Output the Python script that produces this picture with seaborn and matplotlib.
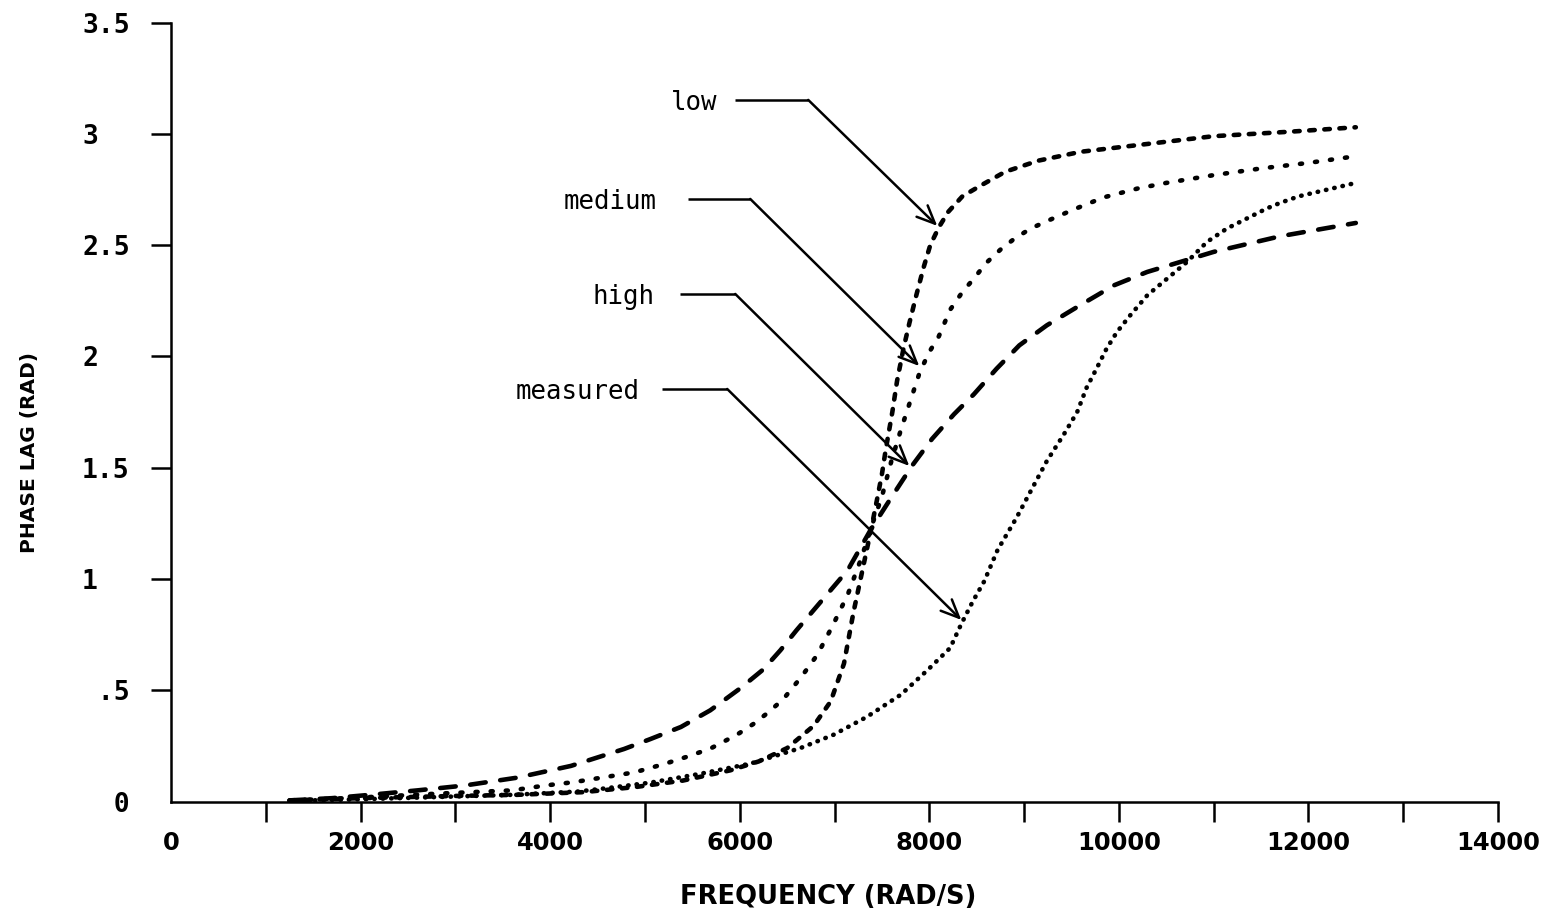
import matplotlib
matplotlib.use("Agg")
import matplotlib.pyplot as plt
from matplotlib import font_manager
from matplotlib.ticker import FixedLocator
import pandas as pd
import seaborn as sns

# ---- curve samples: frequency (rad/s) and phase lag (rad) ----
low_freq = [1250, 2000, 3000, 3650, 4350, 4900, 5400, 5900, 6200, 6500, 6780,
            6960, 7100, 7200, 7300, 7380, 7450, 7500, 7540, 7610, 7660, 7730,
            7790, 7860, 7940, 8010, 8100, 8200, 8350, 8550, 8800, 9150, 9600,
            10200, 11000, 11800, 12500]
low_lag = [0.005, 0.015, 0.025, 0.03, 0.042, 0.065, 0.094, 0.14, 0.18, 0.24, 0.34,
           0.45, 0.62, 0.85, 1.05, 1.21, 1.36, 1.47, 1.58, 1.75, 1.89, 2.04,
           2.15, 2.27, 2.40, 2.50, 2.58, 2.65, 2.72, 2.77, 2.83, 2.88, 2.92,
           2.95, 2.99, 3.01, 3.03]

medium_freq = [1300, 2000, 2800, 3600, 3950, 4250, 4570, 4890, 5200, 5480, 5700,
               5970, 6150, 6300, 6460, 6650, 6820, 6980, 7140, 7280, 7410, 7500,
               7600, 7700, 7800, 7900, 8000, 8100, 8220, 8350, 8470, 8600, 8750,
               8900, 9070, 9250, 9520, 9840, 10200, 10500, 11000, 11500, 12000,
               12500]
medium_lag = [0.005, 0.018, 0.035, 0.05, 0.072, 0.087, 0.109, 0.131, 0.168, 0.206, 0.24,
              0.30, 0.35, 0.40, 0.46, 0.56, 0.66, 0.79, 0.93, 1.09, 1.26, 1.37,
              1.53, 1.67, 1.80, 1.93, 2.02, 2.09, 2.21, 2.29, 2.35, 2.42, 2.48,
              2.53, 2.575, 2.61, 2.66, 2.715, 2.755, 2.78, 2.815, 2.845, 2.87,
              2.90]

high_freq = [1250, 1700, 2100, 2600, 3100, 3650, 4220, 4500, 4780, 5060, 5380,
             5690, 6010, 6250, 6430, 6600, 6780, 6960, 7140, 7380, 7590, 7820,
             8030, 8260, 8470, 8710, 8950, 9240, 9590, 9950, 10300, 10650, 11000,
             11350, 11700, 12100, 12500]
high_lag = [0.005, 0.015, 0.03, 0.05, 0.072, 0.107, 0.16, 0.198, 0.236, 0.281, 0.335,
            0.41, 0.51, 0.594, 0.68, 0.77, 0.86, 0.95, 1.04, 1.22, 1.36, 1.51,
            1.63, 1.74, 1.83, 1.945, 2.05, 2.14, 2.23, 2.32, 2.38, 2.425, 2.47,
            2.505, 2.54, 2.57, 2.60]

measured_freq = [1250, 2000, 2800, 3600, 4300, 4600, 5060, 5590, 6110, 6640, 6990,
                 7340, 7700, 7980, 8220, 8340, 8460, 8580, 8720, 8920, 9070, 9240,
                 9420, 9560, 9660, 9770, 9870, 9980, 10120, 10300, 10510, 10720,
                 10930, 11140, 11350, 11560, 11700, 11900, 12200, 12500]
measured_lag = [0.003, 0.01, 0.02, 0.03, 0.045, 0.06, 0.085, 0.125, 0.17, 0.24, 0.30,
                0.38, 0.48, 0.59, 0.69, 0.80, 0.90, 0.99, 1.13, 1.275, 1.395, 1.53,
                1.65, 1.75, 1.86, 1.95, 2.035, 2.11, 2.185, 2.275, 2.35, 2.425,
                2.515, 2.575, 2.62, 2.665, 2.69, 2.72, 2.75, 2.78]

# ---- axis ticks ----
x_major = [0, 2000, 4000, 6000, 8000, 10000, 12000, 14000]
x_minor = [1000, 3000, 5000, 7000, 9000, 11000, 13000]
x_labels = ["0", "2000", "4000", "6000", "8000", "10000", "12000", "14000"]
y_major = [0, 0.5, 1, 1.5, 2, 2.5, 3, 3.5]
y_labels = ["  0", " .5", "1", "1.5", "2", "2.5", "3", "3.5"]

# ---- callouts: label, text anchor, leader start/elbow, arrow tip ----
call_names = ["low", "medium", "high", "measured"]
call_text_x = [5763, 5119, 5098, 4939]
call_lead_y = [3.153, 2.708, 2.281, 1.854]
call_start_x = [5953, 5457, 5372, 5182]
call_elbow_x = [6723, 6111, 5953, 5868]
call_tip_x = [8084, 7894, 7789, 8338]
call_tip_y = [2.587, 1.957, 1.508, 0.816]

sns.set_theme(style="ticks")
plt.rcParams["font.family"] = ["DejaVu Sans"]

installed = {f.name for f in font_manager.fontManager.ttflist}
if "Liberation Sans Narrow" in installed:
    narrow, xt_size, xl_size, yl_size = "Liberation Sans Narrow", 23, 23, 18
else:
    narrow, xt_size, xl_size, yl_size = "DejaVu Sans", 17.5, 18.5, 14.5

frames = [
    pd.DataFrame({"freq": low_freq, "lag": low_lag, "case": "low"}),
    pd.DataFrame({"freq": medium_freq, "lag": medium_lag, "case": "medium"}),
    pd.DataFrame({"freq": high_freq, "lag": high_lag, "case": "high"}),
    pd.DataFrame({"freq": measured_freq, "lag": measured_lag, "case": "measured"}),
]
df = pd.concat(frames, ignore_index=True)

# dash patterns (in units of line width)
dash_map = {
    "low": (1.2, 2.1),
    "medium": (0.45, 2.85),
    "high": (3.4, 3.2),
    "measured": (0.1, 1.75),
}

fig = plt.figure(figsize=(15.6, 9.17), dpi=100)
fig.patch.set_facecolor("white")
ax = fig.add_axes([171 / 1560, (917 - 801.5) / 917, (1498 - 171) / 1560, (801.5 - 22.7) / 917])
ax.set_facecolor("white")

for case, dash in dash_map.items():
    sns.lineplot(data=df[df["case"] == case], x="freq", y="lag", ax=ax,
                 color="black", linewidth=3.3, linestyle=(0, dash),
                 dash_capstyle="round", estimator=None, errorbar=None,
                 sort=False, legend=False)

ax.set_xlim(0, 14000)
ax.set_ylim(0, 3.5)
sns.despine(ax=ax)
for side in ("left", "bottom"):
    ax.spines[side].set_linewidth(1.8)
    ax.spines[side].set_color("black")

ax.xaxis.set_major_locator(FixedLocator(x_major))
ax.xaxis.set_minor_locator(FixedLocator(x_minor))
ax.yaxis.set_major_locator(FixedLocator(y_major))
ax.set_xticklabels(x_labels, fontfamily=narrow, fontweight="bold", fontsize=xt_size)
ax.set_yticklabels(y_labels, fontfamily="DejaVu Sans Mono", fontweight="bold", fontsize=19)
plt.setp(ax.get_yticklabels(), ha="left")
ax.tick_params(axis="both", which="both", direction="out", length=14.5,
               width=1.8, color="black", labelcolor="black")
ax.tick_params(axis="x", which="major", pad=7)
ax.tick_params(axis="y", which="major", pad=49.5)
ax.xaxis.get_major_ticks()[0].tick1line.set_visible(False)
ax.yaxis.get_major_ticks()[0].tick1line.set_visible(False)

ax.set_xlabel("FREQUENCY (RAD/S)", fontfamily=narrow, fontweight="bold",
              fontsize=xl_size, color="black")
ax.set_ylabel("PHASE LAG (RAD)", fontfamily=narrow, fontweight="bold",
              fontsize=yl_size, color="black")
ax.xaxis.set_label_coords(0.495, -0.1226)
ax.xaxis.label.set_va("center")
ax.yaxis.set_label_coords(-0.1063, 0.4475)
ax.yaxis.label.set_va("center")

for name, tx, ly, sx, ex, px, py in zip(call_names, call_text_x, call_lead_y,
                                        call_start_x, call_elbow_x,
                                        call_tip_x, call_tip_y):
    ax.text(tx, ly, name, ha="right", va="baseline", fontfamily="DejaVu Sans Mono",
            fontsize=18.5, color="black",
            transform=ax.transData + matplotlib.transforms.ScaledTranslation(0, -7 / 72, fig.dpi_scale_trans))
    ax.plot([sx, ex], [ly, ly], color="black", linewidth=1.8, solid_capstyle="butt")
    ax.annotate("", xy=(px, py), xytext=(ex, ly),
                arrowprops=dict(arrowstyle="->, head_length=0.5, head_width=0.22",
                                color="black", linewidth=1.8, mutation_scale=26,
                                shrinkA=0, shrinkB=0))

fig.savefig("out.png", dpi=100, facecolor="white")
